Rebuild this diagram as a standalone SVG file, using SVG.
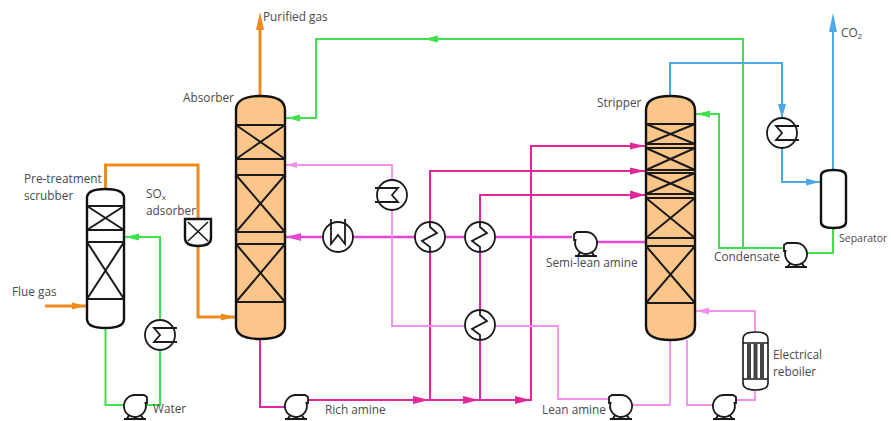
<svg xmlns="http://www.w3.org/2000/svg" xmlns:xlink="http://www.w3.org/1999/xlink" width="891" height="421" viewBox="0 0 891 421">
<style>
text{font-family:"Open Sans","Liberation Sans",sans-serif;font-size:11.8px;fill:#4a4a4a}
.c{fill:none;stroke-linejoin:miter}
.or{stroke:#f08a1c;stroke-width:3}
.gr{stroke:#3fe04a;stroke-width:2}
.bl{stroke:#4aa8e8;stroke-width:2}
.rm{stroke:#e0289a;stroke-width:2}
.sl{stroke:#e448d4;stroke-width:2.4}
.lp{stroke:#f290ec;stroke-width:1.8}
.s{fill:none;stroke:#1a1a1a;stroke-width:1.6}
.t{stroke:#1a1a1a;stroke-width:2;fill:none}
.v{stroke:#111;stroke-width:2.4;fill:#fff}
.o{fill:#fcc68a}
</style>
<defs>
<g id="pump"><path class="s" d="M-5 8L-8 12.500M5 8L8 12.500M-11 13H11" style="stroke-width:2"/><path class="s" style="fill:#fff;stroke-width:1.800" d="M0 -11H9L12 -9V-3H10.500A11 11 0 1 1 0 -11Z"/></g>
<g id="hx"><circle r="15" fill="#fff" stroke="#1a1a1a" stroke-width="1.8"/><path class="s" d="M0 15V10L-8 4 7 -4 0 -10V-15" style="stroke-width:1.8"/></g>
<g id="cool"><circle r="15" fill="#fff" stroke="#1a1a1a" stroke-width="1.8"/><path class="s" style="stroke-width:1.8" d="M17 -7H6L-6 -7 0 0 -6 7H17"/></g>
</defs>
<g id="connectors">
<path class="c or" d="M45 306H87"/><path d="M72 302.500L86 306 72 309.500Z" fill="#f08a1c"/>
<path class="c or" d="M105.500 189V165H198V317H236"/><path d="M221 313.500L235 317 221 320.500Z" fill="#f08a1c"/>
<path class="c or" d="M260 96V25"/><path d="M256 30L260 12 264 30Z" fill="#f08a1c"/>
<path class="c gr" d="M105.500 328V405H160V237H124"/><path d="M139 233.500L125 237 139 240.500Z" fill="#3fe04a"/>
<path class="c gr" d="M743 248V39H316V118H285"/><path d="M300 114.500L287 118 300 121.500Z M438 35.500L424 39 438 42.500Z" fill="#3fe04a"/>
<path class="c gr" d="M695 114H719V248H784M806 253H833V228"/><path d="M710 110.500L696 114 710 117.500Z" fill="#3fe04a"/>
<path class="c bl" d="M670 96V63H782V182H821M833 170V20"/><path d="M778 104L782 118 786 104Z M806 178.500L820 182 806 185.500Z" fill="#4aa8e8"/><path d="M829 32L833 13 837 32Z" fill="#4aa8e8"/>
<path class="c rm" d="M260 340V407H285M306 400H531V146H646M430 400V171H646M480 400V195H646"/>
<path d="M413 396L429 400 413 404Z M463 396L479 400 463 404Z M515 396L531 400 515 404Z M630 142.500L645 146 630 149.500Z M630 167.500L645 171 630 174.500Z M630 190.500L645 195 630 199.500Z" fill="#e0289a"/>
<path class="c sl" d="M285 237H572M590 242H646"/><path d="M301 233L286 237 301 241Z" fill="#e448d4"/>
<path class="c lp" d="M285 165H392V326H558V399H610M630 405H670V340M687 340V405H720M735 400H755V311H695"/>
<path d="M297 162L286 165 297 168Z M709 307.500L697 311 709 314.500Z" fill="#f290ec"/>
</g>
<g id="absorber"><path class="v o" d="M236 110Q236 96 260.500 96T285 110V326Q285 339 260.500 339T236 326Z"/>
<path class="t" d="M236 125H285M236 159H285M236 175H285M236 232H285M236 244H285M236 302H285M236 125L285 159M285 125L236 159M236 175L285 232M285 175L236 232M236 244L285 302M285 244L236 302"/></g>
<g id="scrubber"><path class="v" d="M87 198Q87 189 105.500 189T124 198V319Q124 328 105.500 328T87 319Z"/>
<path class="t" d="M87 206H124M87 230H124M87 242H124M87 299H124M87 206L124 230M124 206L87 230M87 242L124 299M124 242L87 299"/></g>
<g id="sox-adsorber"><path class="v" d="M185 219H211V238Q211 246 198 246T185 238Z"/><path class="s" d="M188 222L208 241M208 222L188 241"/></g>
<g id="stripper"><path class="v o" d="M646 110Q646 96 670.500 96T695 110V326Q695 340 670.500 340T646 326Z"/>
<path class="t" d="M646 124H695M646 144H695M646 148H695M646 170H695M646 173H695M646 194H695M646 198H695M646 238H695M646 246H695M646 303H695M646 124L695 144M695 124L646 144M646 148L695 170M695 148L646 170M646 173L695 194M695 173L646 194M646 198L695 238M695 198L646 238M646 246L695 303M695 246L646 303"/></g>
<g id="separator"><path class="v" d="M821 176Q821 170 833.500 170T846 176V222Q846 228 833.500 228T821 222Z"/></g>
<g id="reboiler"><path class="s" style="fill:#fff" d="M743 339Q743 332 755.500 332T768 339V383Q768 390 755.500 390T743 383Z"/><path class="s" d="M743 343H768M743 379H768"/><path d="M747 344h4v35h-4zM753.500 344h4v35h-4zM760 344h4v35h-4z" fill="#444"/></g>
<use id="pump-water" xlink:href="#pump" href="#pump" x="135" y="406"/>
<use id="pump-rich" xlink:href="#pump" href="#pump" x="296" y="406"/>
<use id="pump-reboiler" xlink:href="#pump" href="#pump" x="724" y="406"/>
<use id="pump-semilean" xlink:href="#pump" href="#pump" transform="translate(586 243) scale(-1 1)"/>
<use id="pump-lean" xlink:href="#pump" href="#pump" transform="translate(621 406) scale(-1 1)"/>
<use id="pump-condensate" xlink:href="#pump" href="#pump" transform="translate(796 254) scale(-1 1)"/>
<use id="hx-1" xlink:href="#hx" href="#hx" x="430" y="237"/>
<use id="hx-2" xlink:href="#hx" href="#hx" x="480" y="237"/>
<use id="hx-3" xlink:href="#hx" href="#hx" x="480" y="325"/>
<use id="cooler-water" xlink:href="#cool" href="#cool" x="160" y="335"/>
<use id="cooler-co2" xlink:href="#cool" href="#cool" x="782" y="133"/>
<use id="cooler-lean" xlink:href="#cool" href="#cool" transform="translate(392 195) scale(-1 1)"/>
<g id="cooler-semilean"><circle cx="338" cy="237" r="15" fill="#fff" stroke="#1a1a1a" stroke-width="1.800"/><path class="s" style="stroke-width:1.800" d="M331 219V244L338 235 345 244V219"/></g>
<g id="labels">
<text x="263" y="21">Purified gas</text>
<text x="183" y="102">Absorber</text>
<text x="24" y="183">Pre-treatment</text>
<text x="24" y="200">scrubber</text>
<text x="146" y="198">SO<tspan font-size="8" dy="2">x</tspan></text>
<text x="146" y="215">adsorber</text>
<text x="12" y="296">Flue gas</text>
<text x="153" y="413">Water</text>
<text x="325" y="414">Rich amine</text>
<text x="542" y="414">Lean amine</text>
<text x="546" y="267">Semi-lean amine</text>
<text x="597" y="107">Stripper</text>
<text x="714" y="261">Condensate</text>
<text x="839" y="242" style="font-size:10.500px">Separator</text>
<text x="841" y="37">CO<tspan font-size="8" dy="2">2</tspan></text>
<text x="773" y="359">Electrical</text>
<text x="773" y="376">reboiler</text>
</g>
</svg>
